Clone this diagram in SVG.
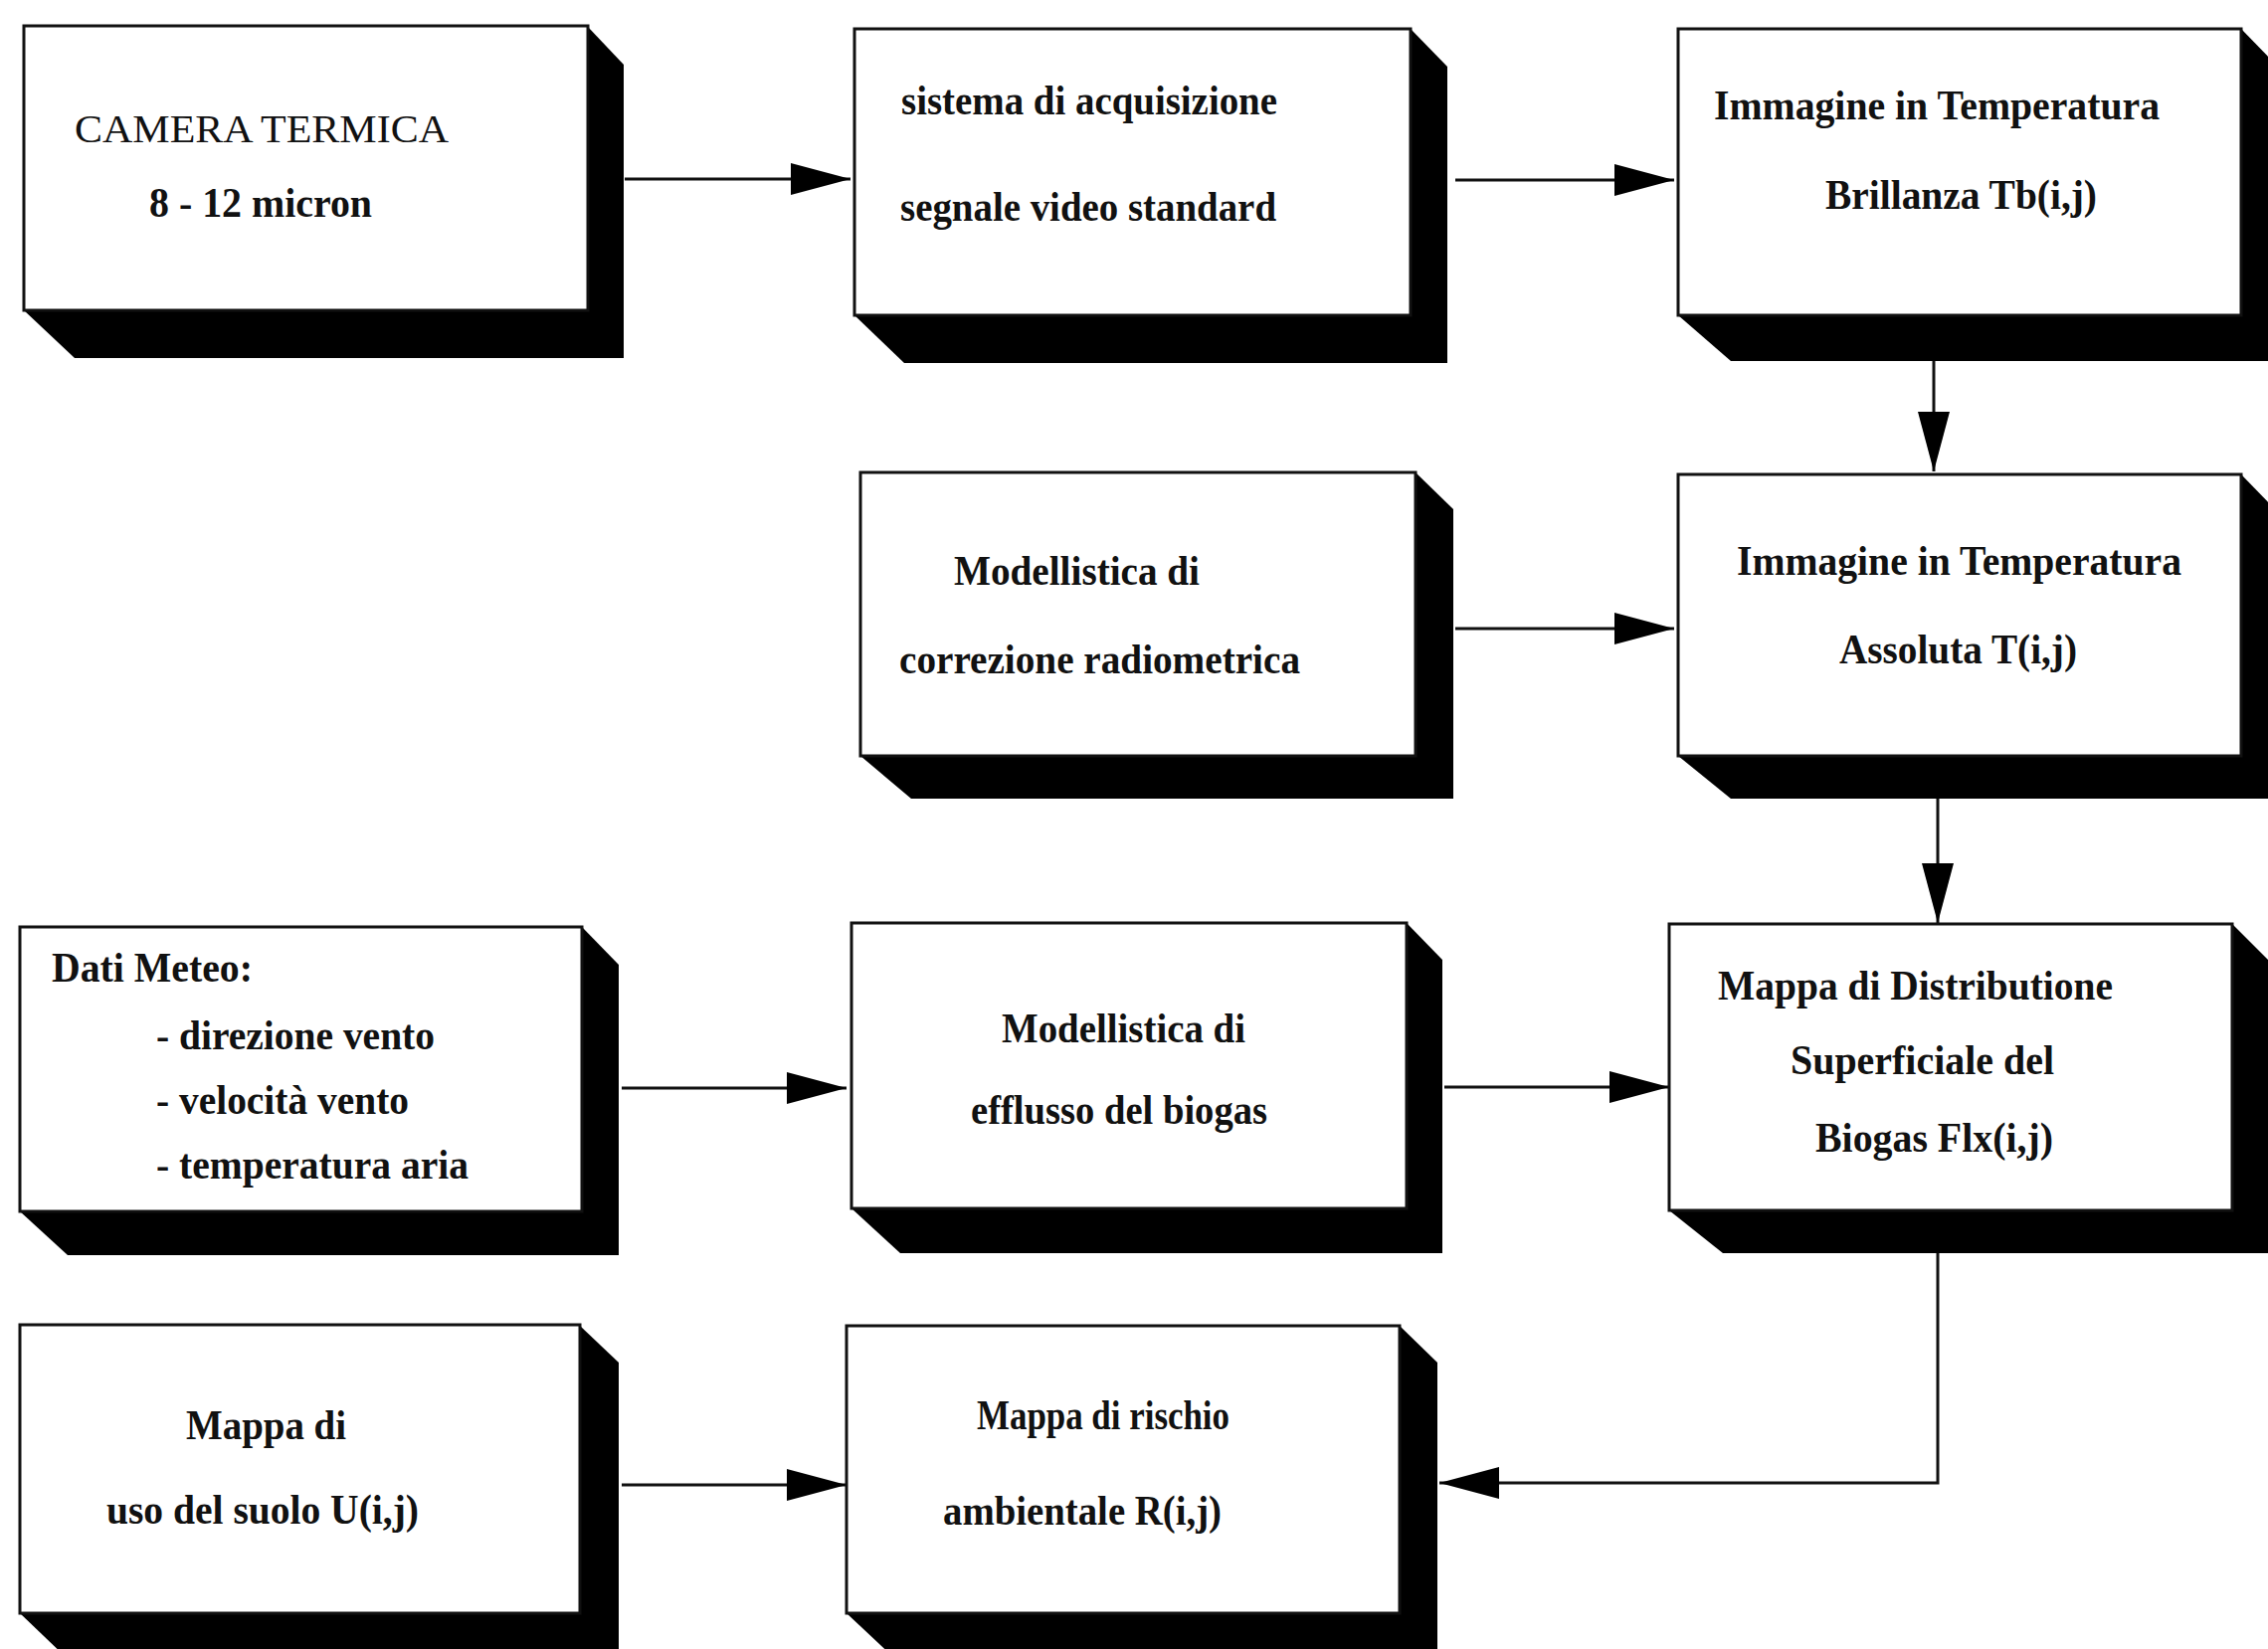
<svg xmlns="http://www.w3.org/2000/svg" width="2280" height="1658" viewBox="0 0 2280 1658">
<style>
.sh{fill:#000}
.fr{fill:#fff;stroke:#111;stroke-width:3}
.t{font-family:"Liberation Serif","Times New Roman",serif;font-size:42px;font-weight:bold;fill:#111}
.tn{font-weight:normal;font-size:40px}
.c{stroke:#111;stroke-width:3;fill:none}
</style>
<defs>
<marker id="ah" markerUnits="userSpaceOnUse" markerWidth="60" markerHeight="32" refX="60" refY="16" orient="auto">
<path d="M0,0 L60,16 L0,32 Z" fill="#000"/>
</marker>
</defs>
<rect width="2280" height="1658" fill="#fff"/>
<g id="connectors">
<line class="c" x1="628" y1="180" x2="855" y2="180" marker-end="url(#ah)"/>
<line class="c" x1="1463" y1="181" x2="1683" y2="181" marker-end="url(#ah)"/>
<line class="c" x1="1463" y1="632" x2="1683" y2="632" marker-end="url(#ah)"/>
<line class="c" x1="625" y1="1094" x2="851" y2="1094" marker-end="url(#ah)"/>
<line class="c" x1="1452" y1="1093" x2="1678" y2="1093" marker-end="url(#ah)"/>
<line class="c" x1="625" y1="1493" x2="851" y2="1493" marker-end="url(#ah)"/>
<line class="c" x1="1944" y1="363" x2="1944" y2="474" marker-end="url(#ah)"/>
<line class="c" x1="1948" y1="803" x2="1948" y2="928" marker-end="url(#ah)"/>
<polyline class="c" points="1948,1260 1948,1491 1447,1491" marker-end="url(#ah)"/>
</g>
<g id="camera">
<polygon class="sh" points="591,27 627,65 627,360 75,360 24,312"/>
<rect class="fr" x="24" y="26" width="567" height="286"/>
<text class="t tn" x="75" y="143" textLength="376" lengthAdjust="spacingAndGlyphs">CAMERA TERMICA</text>
<text class="t" x="150" y="218" textLength="224" lengthAdjust="spacingAndGlyphs">8 - 12 micron</text>
</g>
<g id="acquisizione">
<polygon class="sh" points="1418,29 1455,67 1455,365 909,365 859,317"/>
<rect class="fr" x="859" y="29" width="559" height="288"/>
<text class="t" x="906" y="115" textLength="378" lengthAdjust="spacingAndGlyphs">sistema di acquisizione</text>
<text class="t" x="905" y="222" textLength="378" lengthAdjust="spacingAndGlyphs">segnale video standard</text>
</g>
<g id="brillanza">
<polygon class="sh" points="2253,29 2290,67 2290,363 1740,363 1687,317"/>
<rect class="fr" x="1687" y="29" width="566" height="288"/>
<text class="t" x="1723" y="120" textLength="448" lengthAdjust="spacingAndGlyphs">Immagine in Temperatura</text>
<text class="t" x="1835" y="210" textLength="273" lengthAdjust="spacingAndGlyphs">Brillanza Tb(i,j)</text>
</g>
<g id="correzione">
<polygon class="sh" points="1423,475 1461,512 1461,803 916,803 865,760"/>
<rect class="fr" x="865" y="475" width="558" height="285"/>
<text class="t" x="959" y="588" textLength="247" lengthAdjust="spacingAndGlyphs">Modellistica di</text>
<text class="t" x="904" y="677" textLength="403" lengthAdjust="spacingAndGlyphs">correzione radiometrica</text>
</g>
<g id="assoluta">
<polygon class="sh" points="2253,477 2290,515 2290,803 1740,803 1687,760"/>
<rect class="fr" x="1687" y="477" width="566" height="283"/>
<text class="t" x="1746" y="578" textLength="447" lengthAdjust="spacingAndGlyphs">Immagine in Temperatura</text>
<text class="t" x="1849" y="667" textLength="239" lengthAdjust="spacingAndGlyphs">Assoluta T(i,j)</text>
</g>
<g id="meteo">
<polygon class="sh" points="585,932 622,970 622,1262 68,1262 20,1218"/>
<rect class="fr" x="20" y="932" width="565" height="286"/>
<text class="t" x="52" y="987" textLength="202" lengthAdjust="spacingAndGlyphs">Dati Meteo:</text>
<text class="t" x="157" y="1055" textLength="280" lengthAdjust="spacingAndGlyphs">- direzione vento</text>
<text class="t" x="157" y="1120" textLength="254" lengthAdjust="spacingAndGlyphs">- velocità vento</text>
<text class="t" x="157" y="1185" textLength="314" lengthAdjust="spacingAndGlyphs">- temperatura aria</text>
</g>
<g id="efflusso">
<polygon class="sh" points="1414,928 1450,965 1450,1260 905,1260 856,1215"/>
<rect class="fr" x="856" y="928" width="558" height="287"/>
<text class="t" x="1007" y="1048" textLength="245" lengthAdjust="spacingAndGlyphs">Modellistica di</text>
<text class="t" x="976" y="1130" textLength="298" lengthAdjust="spacingAndGlyphs">efflusso del biogas</text>
</g>
<g id="distribuzione">
<polygon class="sh" points="2244,929 2282,967 2282,1260 1732,1260 1678,1217"/>
<rect class="fr" x="1678" y="929" width="566" height="288"/>
<text class="t" x="1727" y="1005" textLength="397" lengthAdjust="spacingAndGlyphs">Mappa di Distributione</text>
<text class="t" x="1800" y="1080" textLength="265" lengthAdjust="spacingAndGlyphs">Superficiale del</text>
<text class="t" x="1825" y="1158" textLength="239" lengthAdjust="spacingAndGlyphs">Biogas Flx(i,j)</text>
</g>
<g id="suolo">
<polygon class="sh" points="583,1333 622,1370 622,1668 68,1668 20,1622"/>
<rect class="fr" x="20" y="1332" width="563" height="290"/>
<text class="t" x="187" y="1447" textLength="161" lengthAdjust="spacingAndGlyphs">Mappa di</text>
<text class="t" x="107" y="1532" textLength="314" lengthAdjust="spacingAndGlyphs">uso del suolo U(i,j)</text>
</g>
<g id="rischio">
<polygon class="sh" points="1407,1333 1445,1370 1445,1668 900,1668 851,1622"/>
<rect class="fr" x="851" y="1333" width="556" height="289"/>
<text class="t" x="982" y="1437" textLength="254" lengthAdjust="spacingAndGlyphs">Mappa di rischio</text>
<text class="t" x="948" y="1533" textLength="280" lengthAdjust="spacingAndGlyphs">ambientale R(i,j)</text>
</g>
</svg>
